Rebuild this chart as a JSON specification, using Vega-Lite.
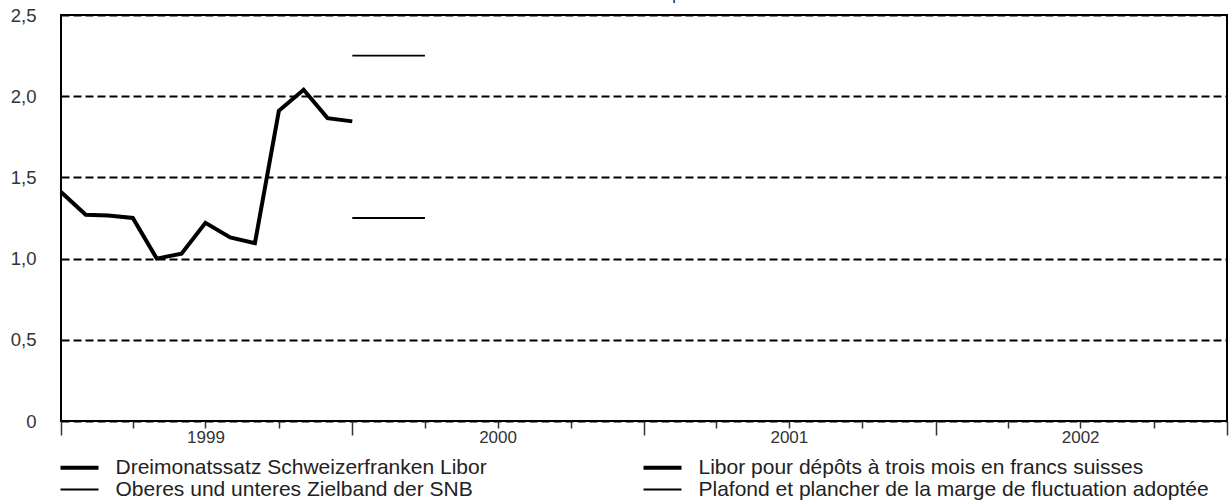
{
  "$schema": "https://vega.github.io/schema/vega-lite/v6.json",
  "autosize": {"type": "none"},
  "padding": {"left": 61, "top": 15, "right": 4, "bottom": 83},
  "width": 1166,
  "height": 406,
  "background": "white",
  "config": {
    "font": "Liberation Sans",
    "view": {"stroke": "black", "strokeWidth": 2}
  },
  "datasets": {
    "lines": [
      {"date": "1999-01-01", "value": 1.41, "series": "Dreimonatssatz Schweizerfranken Libor", "grp": "libor"},
      {"date": "1999-02-01", "value": 1.27, "series": "Dreimonatssatz Schweizerfranken Libor", "grp": "libor"},
      {"date": "1999-03-01", "value": 1.265, "series": "Dreimonatssatz Schweizerfranken Libor", "grp": "libor"},
      {"date": "1999-04-01", "value": 1.25, "series": "Dreimonatssatz Schweizerfranken Libor", "grp": "libor"},
      {"date": "1999-05-01", "value": 1.0, "series": "Dreimonatssatz Schweizerfranken Libor", "grp": "libor"},
      {"date": "1999-06-01", "value": 1.03, "series": "Dreimonatssatz Schweizerfranken Libor", "grp": "libor"},
      {"date": "1999-07-01", "value": 1.22, "series": "Dreimonatssatz Schweizerfranken Libor", "grp": "libor"},
      {"date": "1999-08-01", "value": 1.13, "series": "Dreimonatssatz Schweizerfranken Libor", "grp": "libor"},
      {"date": "1999-09-01", "value": 1.095, "series": "Dreimonatssatz Schweizerfranken Libor", "grp": "libor"},
      {"date": "1999-10-01", "value": 1.91, "series": "Dreimonatssatz Schweizerfranken Libor", "grp": "libor"},
      {"date": "1999-11-01", "value": 2.04, "series": "Dreimonatssatz Schweizerfranken Libor", "grp": "libor"},
      {"date": "1999-12-01", "value": 1.865, "series": "Dreimonatssatz Schweizerfranken Libor", "grp": "libor"},
      {"date": "2000-01-01", "value": 1.845, "series": "Dreimonatssatz Schweizerfranken Libor", "grp": "libor"},
      {"date": "2000-01-01", "value": 2.25, "series": "Oberes und unteres Zielband der SNB", "grp": "upper"},
      {"date": "2000-04-01", "value": 2.25, "series": "Oberes und unteres Zielband der SNB", "grp": "upper"},
      {"date": "2000-01-01", "value": 1.25, "series": "Oberes und unteres Zielband der SNB", "grp": "lower"},
      {"date": "2000-04-01", "value": 1.25, "series": "Oberes und unteres Zielband der SNB", "grp": "lower"}
    ],
    "labels": [
      {"date": "2001-02-05", "value": 2.595, "text": "pour cent"}
    ]
  },
  "layer": [
    {
      "data": {"name": "lines"},
      "mark": {"type": "line", "color": "black", "strokeJoin": "miter", "strokeCap": "butt"},
      "encoding": {
        "x": {
          "field": "date", "type": "temporal",
          "scale": {"type": "utc", "domain": [{"year": 1999, "month": 1, "date": 1, "utc": true}, {"year": 2003, "month": 1, "date": 1, "utc": true}]},
          "axis": {
            "title": null,
            "domain": false,
            "grid": false,
            "values": [
              {"year": 1999, "month": 1, "date": 1, "utc": true},
              {"year": 1999, "month": 4, "date": 1, "utc": true},
              {"year": 1999, "month": 7, "date": 1, "utc": true},
              {"year": 1999, "month": 10, "date": 1, "utc": true},
              {"year": 2000, "month": 1, "date": 1, "utc": true},
              {"year": 2000, "month": 4, "date": 1, "utc": true},
              {"year": 2000, "month": 7, "date": 1, "utc": true},
              {"year": 2000, "month": 10, "date": 1, "utc": true},
              {"year": 2001, "month": 1, "date": 1, "utc": true},
              {"year": 2001, "month": 4, "date": 1, "utc": true},
              {"year": 2001, "month": 7, "date": 1, "utc": true},
              {"year": 2001, "month": 10, "date": 1, "utc": true},
              {"year": 2002, "month": 1, "date": 1, "utc": true},
              {"year": 2002, "month": 4, "date": 1, "utc": true},
              {"year": 2002, "month": 7, "date": 1, "utc": true},
              {"year": 2002, "month": 10, "date": 1, "utc": true},
              {"year": 2003, "month": 1, "date": 1, "utc": true}
            ],
            "labelExpr": "utcmonth(datum.value) == 6 ? utcFormat(datum.value, '%Y') : ''",
            "labelFontSize": 17,
            "labelColor": "#333",
            "labelPadding": 1,
            "labelFlush": false,
            "labelOverlap": false,
            "tickColor": "#333",
            "tickWidth": 1.5,
            "tickSize": {"condition": {"test": "utcmonth(datum.value) == 0", "value": 14}, "value": 7}
          }
        },
        "y": {
          "field": "value", "type": "quantitative",
          "scale": {"domain": [0, 2.5], "nice": false, "zero": false},
          "axis": {
            "title": null,
            "domain": false,
            "ticks": false,
            "values": [0, 0.5, 1, 1.5, 2, 2.5],
            "labelExpr": "datum.value == 0 ? '0' : replace(format(datum.value, '.1f'), '.', ',')",
            "labelFontSize": 18.5,
            "labelColor": "#333",
            "labelPadding": 25,
            "grid": true,
            "gridColor": "black",
            "gridDash": [8, 4],
            "gridWidth": 2,
            "gridOpacity": 1
          }
        },
        "detail": {"field": "grp"},
        "strokeWidth": {
          "field": "series", "type": "ordinal",
          "scale": {
            "type": "ordinal",
            "domain": ["Dreimonatssatz Schweizerfranken Libor", "Oberes und unteres Zielband der SNB", "Libor pour dépôts à trois mois en francs suisses", "Plafond et plancher de la marge de fluctuation adoptée"],
            "range": [4, 1.8, 4, 1.8]
          },
          "legend": {
            "title": null,
            "orient": "none",
            "direction": "vertical",
            "legendX": 7,
            "legendY": 441,
            "columns": 2,
            "columnPadding": 148,
            "rowPadding": 0,
            "symbolType": "M-2,0H2",
            "symbolSize": 361,
            "symbolStrokeColor": "black",
            "symbolFillColor": "transparent",
            "labelFontSize": 21,
            "labelColor": "#222",
            "labelOffset": 24.5,
            "labelLimit": 700
          }
        }
      }
    },
    {
      "data": {"name": "labels"},
      "mark": {"type": "text", "align": "left", "baseline": "alphabetic", "fontSize": 16, "color": "#222", "fill": "#222", "clip": false},
      "encoding": {
        "x": {"field": "date", "type": "temporal"},
        "y": {"field": "value", "type": "quantitative"},
        "text": {"field": "text"}
      }
    }
  ]
}
